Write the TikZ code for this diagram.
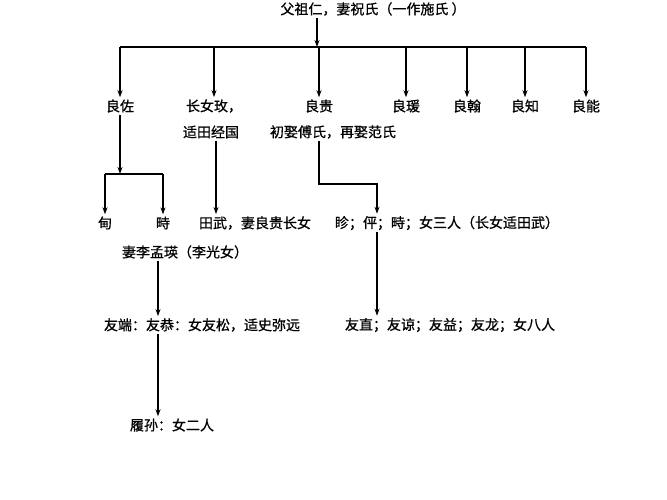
\documentclass[tikz,border=0pt]{standalone}
\usepackage{fontspec}
\newfontfamily\cjk[FakeBold=0.8]{Noto Sans CJK SC}
\usepackage{tikz}
\usetikzlibrary{arrows.meta}
\usetikzlibrary{calc}

\begin{document}
\begin{tikzpicture}[x=1pt,y=-1pt,
    every node/.style={font=\cjk\fontsize{14}{16}\selectfont, inner sep=2pt},
    tree/.style={line width=1.1pt, -{Stealth[length=7pt,width=5pt]}},
    bare/.style={line width=1.1pt}]
        % Fix the frame
        \useasboundingbox (0,0) rectangle (667,500);
        % Top
        \node (title) at (373,9) {父祖仁，妻祝氏（一作施氏 ）};
        \coordinate (bar) at (317,47);
        % First generation
        \node (zuo) at (120,106) {良佐};
        \node (nv) at (214,106) {长女玫，};
        \node (nvb) at (211,132) {适田经国};
        \node (gui) at (319,106) {良贵};
        \node (guib) at (333,132) {初娶傅氏，再娶范氏};
        \node (yuan) at (406,106) {良瑗};
        \node (han) at (467,106) {良翰};
        \node (zhi) at (525,106) {良知};
        \node (neng) at (586,106) {良能};
        % Second generation
        \node (dian) at (105,223) {甸};
        \node (chou) at (163,223) {畤};
        \node (tianwu) at (255,223) {田武，妻良贵长女};
        \node (qili) at (185,252) {妻李孟瑛（李光女）};
        \node (zhen) at (447,223) {眕；伻；畤；女三人（长女适田武）};
        % Third and fourth generation
        \node (youduan) at (202,325) {友端：友恭：女友松，适史弥远};
        \node (youzhi) at (450,325) {友直；友谅；友益；友龙；女八人};
        \node (lvsun) at (172,425) {履孙：女二人};
        % Connectors
        \draw[tree] (title.south -| bar) -- (bar);
        \draw[bare] (bar -| zuo) -- (bar -| neng);
        \foreach \n in {zuo,nv,gui,yuan,han,zhi,neng}
            \draw[tree] (bar -| \n) -- (\n.north);
        \coordinate (split) at (120,174);
        \draw[tree] (zuo.south) -- (split);
        \draw[bare] (split -| dian) -- (split -| chou);
        \draw[tree] (split -| dian) -- (dian.north);
        \draw[tree] (split -| chou) -- (chou.north);
        \coordinate (nvcol) at (216,0);
        \draw[tree] (nvb.south -| nvcol) -- (tianwu.north -| nvcol);
        \coordinate (gturn) at (377,184);
        \draw[tree] (guib.south -| gui) |- (gturn) -- (gturn |- zhen.north);
        \draw[tree] (zhen.south -| gturn) -- (youzhi.north -| gturn);
        \coordinate (qcol) at (158,0);
        \draw[tree] (qili.south -| qcol) -- (youduan.north -| qcol);
        \draw[tree] (youduan.south -| qcol) -- (lvsun.north -| qcol);
\end{tikzpicture}
\end{document}
